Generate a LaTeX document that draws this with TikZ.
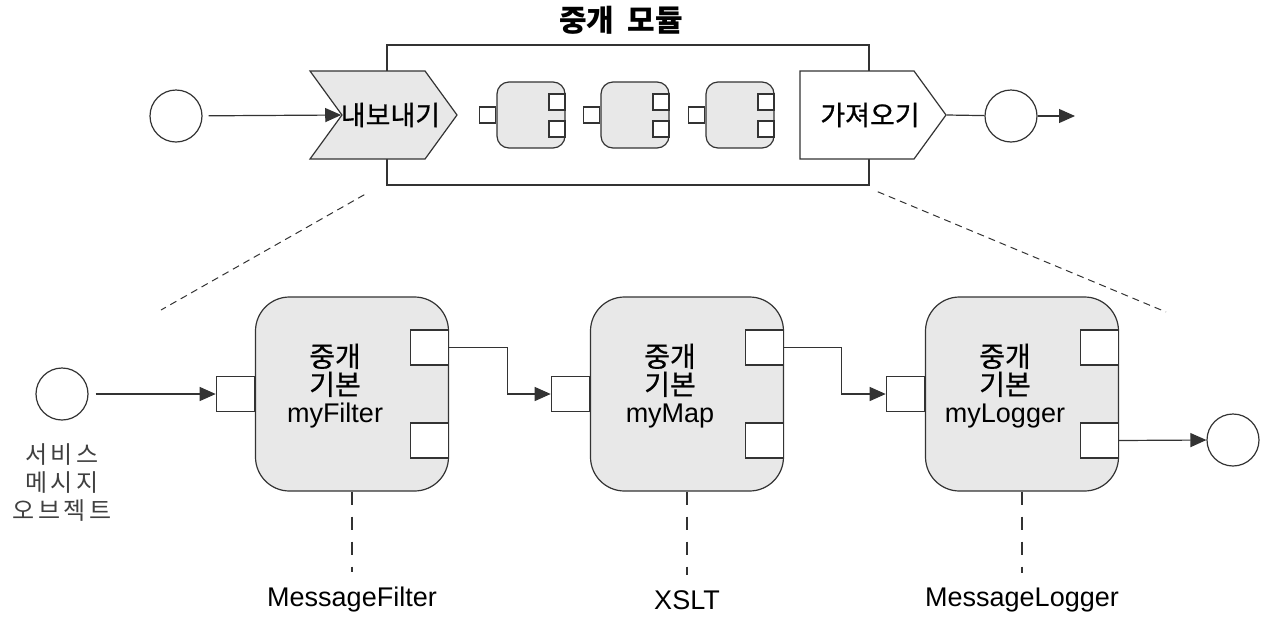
\documentclass[tikz,border=0pt]{standalone}
\usepackage{fontspec}
\setmainfont{Liberation Sans}
\newfontfamily\kr{Noto Sans CJK KR}
\newfontfamily\krmed[FakeBold=0.7]{Noto Sans CJK KR}
\usepackage{tikz}
\usetikzlibrary{shapes,shapes.symbols,positioning,calc}
\usetikzlibrary{arrows.meta}
\colorlet{primgray}{gray!18}
\colorlet{linegray}{black!80}
\newcommand{\krtext}{\krmed\fontsize{28}{28}\selectfont}
\tikzstyle{arrow} = [line width=1.2pt,draw=linegray,-{Triangle[length=16pt,width=14pt]}]

\begin{document}
\begin{tikzpicture}[x=1pt,y=-1pt,
	bigprim/.style={rectangle, draw=linegray, line width=1.2pt, fill=primgray, rounded corners=34pt, minimum width=193pt, minimum height=194pt, inner sep=0},
	bigport/.style={rectangle, draw=linegray, line width=1.2pt, fill=white, minimum width=38pt, minimum height=35pt, inner sep=0},
	smallprim/.style={rectangle, draw=linegray, line width=1.2pt, fill=primgray, rounded corners=12pt, minimum width=68pt, minimum height=66pt, inner sep=0},
	smallport/.style={rectangle, draw=linegray, line width=1.2pt, fill=white, minimum size=16pt, inner sep=0},
	terminal/.style={circle, draw=linegray, line width=1.2pt, minimum size=52pt, inner sep=0},
	flowline/.style={line width=1.2pt, draw=linegray},
	zoomline/.style={line width=1pt, draw=linegray, dash pattern=on 7pt off 5pt},
	implline/.style={line width=2.8pt, draw=linegray, dash pattern=on 13pt off 12pt}]
	
	\useasboundingbox (0,0) rectangle (1263,619);
	
	% MEDIATION MODULE
	
	\node[draw=linegray, line width=1.5pt, minimum width=482pt, minimum height=140pt, inner sep=0] (module) at (628,115) {};
	\node[font=\kr\bfseries\fontsize{30}{30}\selectfont] (moduletitle) at (621,20) {중개\hspace{6pt} 모듈};
	
	\node[signal, signal to=east, signal from=west, signal pointer angle=108, draw=linegray, line width=1.2pt, fill=primgray, minimum width=147pt, minimum height=88pt, inner sep=0, font=\krmed\fontsize{27}{28}\selectfont] (export) at (383.5,115) {\makebox[0pt]{\hspace*{14pt}내보내기}};
	\node[signal, signal to=east, signal pointer angle=108, draw=linegray, line width=1.2pt, fill=white, minimum width=146pt, minimum height=88pt, inner sep=0, font=\krmed\fontsize{27}{28}\selectfont] (import) at (857,115) {\makebox[0pt]{\hspace*{26pt}가져오기}};
	
	\foreach \n/\x in {a/531,b/635,c/740} {
		\node[smallprim] (s\n) at (\x,115) {};
		\node[smallport, left=0pt of s\n] (s\n-in) {};
		\node[smallport, anchor=north east] (s\n-o1) at ([yshift=-12pt]s\n.north east) {};
		\node[smallport, anchor=south east] (s\n-o2) at ([yshift=11pt]s\n.south east) {};
	}
	
	\node[terminal] (topsrc) at (176,116) {};
	\node[terminal] (topsink) at (1011,116) {};
	\coordinate (topout) at (1075,116);
	\draw[arrow, shorten <=6pt] (topsrc) -- (export.west);
	\draw[flowline] (import.east) -- (topsink);
	\draw[arrow] (topsink) -- (topout);
	
	\draw[zoomline] ([xshift=-22pt,yshift=-9pt]module.south west) -- (161,310);
	\draw[zoomline] ([xshift=8pt,yshift=-6pt]module.south east) -- (1166,312);
	
	% MEDIATION PRIMITIVES
	
	\foreach \n/\x/\t/\impl in {filter/352/myFilter/MessageFilter, map/687/myMap/XSLT, logger/1022/myLogger/MessageLogger} {
		\node[bigprim] (\n) at (\x,394) {};
		\node[bigport, left=0pt of \n] (\n-in) {};
		\node[bigport, anchor=north east] (\n-o1) at ([yshift=-33pt]\n.north east) {};
		\node[bigport, anchor=south east] (\n-o2) at ([yshift=33pt]\n.south east) {};
		\node[align=center, inner sep=0, anchor=north, font=\fontsize{27}{28}\selectfont] (\n-label) at ([xshift=-17pt,yshift=-47pt]\n.north) {{\krtext 중개}\\{\krtext 기본}\\\t};
		\node[inner sep=0, font=\fontsize{27}{30}\selectfont] (\n-impl) at (\x,600) {\impl};
		\draw[implline] (\n.south) -- ([yshift=15pt]\n-impl.north);
	}
	
	\node[terminal] (msgsrc) at (62,394) {};
	\node[align=center, text=black!75, font=\kr\fontsize{24}{28}\selectfont\addfontfeature{LetterSpace=14}] (msglabel) at (62,483) {서비스\\메시지\\오브젝트};
	\node[terminal] (msgsink) at (1233,440) {};
	
	\draw[arrow, shorten <=7pt] (msgsrc) -- (filter-in.west);
	\draw[arrow] (filter-o1.east) -- ++(58,0) |- (map-in.west);
	\draw[arrow] (map-o1.east) -- ++(57,0) |- (logger-in.west);
	\draw[arrow] (logger-o2.east) -- (msgsink.west);
	
\end{tikzpicture}
\end{document}
